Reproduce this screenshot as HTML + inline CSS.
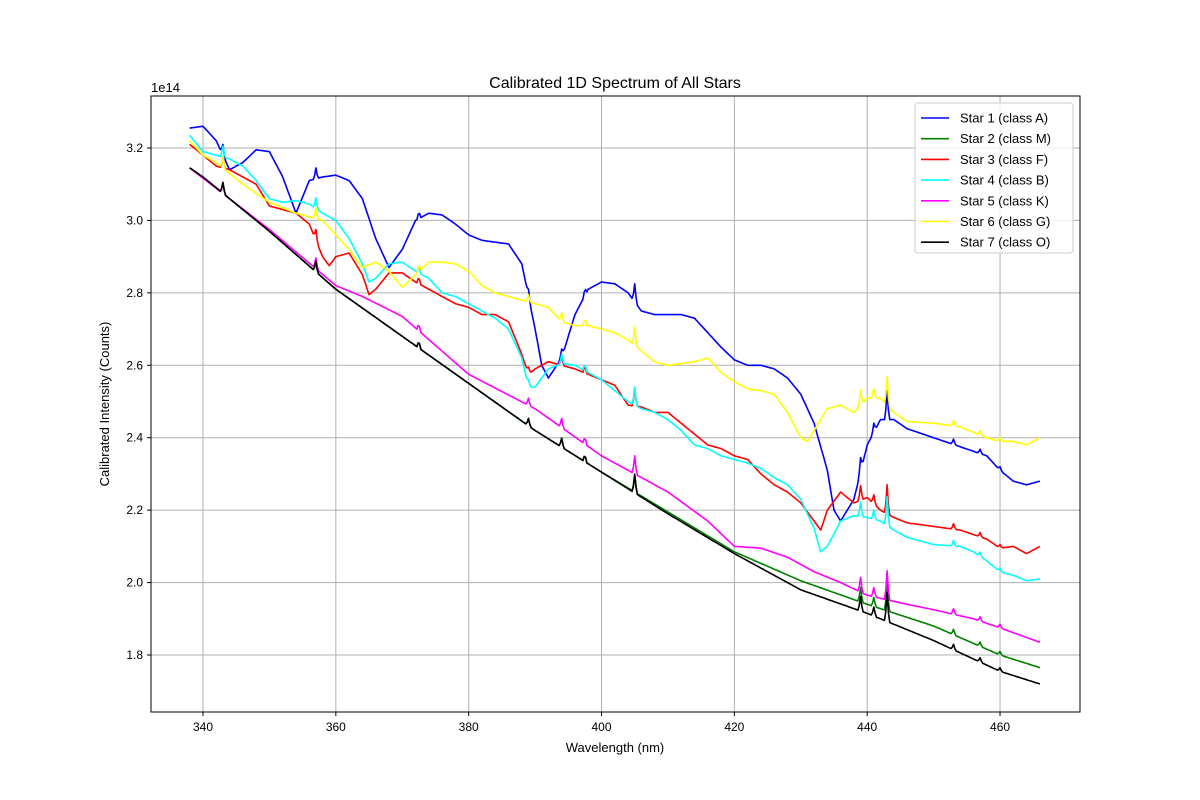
<!DOCTYPE html>
<html><head><meta charset="utf-8"><style>
body{margin:0;background:#fff;font-family:"Liberation Sans","DejaVu Sans",sans-serif;}
svg{display:block}
</style></head><body>
<svg id="chart" width="1200" height="800" xmlns="http://www.w3.org/2000/svg" font-family="Liberation Sans, DejaVu Sans, sans-serif">
<rect x="0" y="0" width="1200" height="800" fill="#fff"/>
<text x="615" y="88" font-size="16" text-anchor="middle">Calibrated 1D Spectrum of All Stars</text>
<text x="615" y="752" font-size="13" text-anchor="middle">Wavelength (nm)</text>
<text transform="translate(109,404) rotate(-90)" font-size="13" text-anchor="middle">Calibrated Intensity (Counts)</text>
<text x="151" y="92" font-size="13">1e14</text>
<g id="grid"></g>
<g id="series"></g>
<rect x="151" y="96" width="929" height="616" fill="none" stroke="#000" stroke-width="1"/>
<g id="ticks"></g>
<g id="legend"></g>
</svg>
<script>
const xTicks=[340,360,380,400,420,440,460];
const yTicks=[1.8,2.0,2.2,2.4,2.6,2.8,3.0,3.2];
const names=["Star 1 (class A)","Star 2 (class M)","Star 3 (class F)","Star 4 (class B)","Star 5 (class K)","Star 6 (class G)","Star 7 (class O)"];
const colors=["#0000ff","#008000","#ff0000","#00ffff","#ff00ff","#ffff00","#000000"];
const star1W=[338,340,342,344,346,348,350,352,354,356,358,360,362,364,366,368,370,372,374,376,378,380,382,384,386,388,390,391,392,394,396,398,400,402,404,406,408,410,412,414,416,418,420,422,424,426,428,430,432,434,435,436,438,440,442,444,446,450,454,458,460,462,464,466];
const star1V=[3.255,3.26,3.22,3.14,3.16,3.195,3.19,3.12,3.02,3.11,3.12,3.125,3.11,3.06,2.95,2.87,2.92,3.0,3.02,3.015,2.99,2.96,2.945,2.94,2.935,2.88,2.70,2.60,2.565,2.62,2.74,2.81,2.83,2.825,2.80,2.75,2.74,2.74,2.74,2.73,2.69,2.65,2.615,2.60,2.60,2.59,2.565,2.52,2.44,2.31,2.20,2.17,2.23,2.38,2.45,2.45,2.425,2.40,2.375,2.35,2.31,2.28,2.27,2.28];
const star2W=[338,340,350,360,370,380,390,400,410,420,430,440,450,460,466];
const star2V=[3.145,3.12,2.97,2.81,2.68,2.55,2.42,2.305,2.195,2.085,2.005,1.94,1.88,1.80,1.765];
const star3W=[338,340,342,344,346,348,350,352,354,356,358,359,360,362,364,365,366,368,370,372,374,376,378,380,382,384,386,388,389,390,392,394,396,398,400,402,404,406,408,410,412,414,416,418,420,422,424,426,428,430,432,433,434,436,438,440,442,444,446,450,454,458,460,462,464,466];
const star3V=[3.21,3.18,3.15,3.14,3.12,3.10,3.04,3.03,3.02,2.99,2.90,2.875,2.90,2.91,2.85,2.795,2.81,2.855,2.855,2.83,2.81,2.79,2.77,2.76,2.74,2.74,2.72,2.63,2.575,2.59,2.61,2.60,2.59,2.575,2.56,2.545,2.49,2.485,2.47,2.47,2.44,2.41,2.38,2.37,2.35,2.34,2.30,2.27,2.25,2.22,2.17,2.145,2.20,2.25,2.22,2.235,2.20,2.18,2.165,2.155,2.145,2.12,2.095,2.10,2.08,2.10];
const star4W=[338,340,342,344,346,348,350,352,354,356,358,360,362,364,365,366,368,370,372,374,376,378,380,382,384,386,388,389,390,392,394,396,398,400,402,404,406,408,410,412,414,416,418,420,422,424,426,428,430,432,433,434,436,438,440,442,444,446,450,454,456,458,460,462,464,466];
const star4V=[3.235,3.19,3.18,3.17,3.15,3.11,3.06,3.05,3.055,3.045,3.02,3.0,2.95,2.88,2.83,2.84,2.88,2.885,2.86,2.84,2.80,2.79,2.77,2.75,2.73,2.70,2.62,2.54,2.54,2.59,2.605,2.60,2.58,2.56,2.53,2.50,2.48,2.47,2.45,2.42,2.38,2.37,2.35,2.34,2.33,2.315,2.29,2.27,2.23,2.15,2.085,2.10,2.17,2.185,2.18,2.17,2.145,2.125,2.105,2.10,2.085,2.06,2.03,2.02,2.005,2.01];
const star5W=[338,350,360,364,370,380,390,400,410,416,420,424,428,432,436,440,446,450,456,460,466];
const star5V=[3.145,2.975,2.82,2.79,2.735,2.575,2.48,2.35,2.25,2.17,2.10,2.095,2.07,2.03,2.0,1.965,1.94,1.925,1.9,1.875,1.835];
const star6W=[338,340,342,344,346,350,354,358,360,362,364,366,368,370,372,374,376,378,380,382,384,386,388,390,392,394,396,398,400,402,404,406,408,410,412,414,416,418,420,422,424,426,428,430,431,432,434,436,438,440,442,444,446,450,454,458,460,462,464,466];
const star6V=[3.22,3.18,3.16,3.13,3.10,3.05,3.02,3.0,2.96,2.92,2.87,2.885,2.86,2.815,2.85,2.885,2.885,2.88,2.86,2.82,2.80,2.79,2.78,2.77,2.76,2.72,2.71,2.71,2.70,2.69,2.67,2.64,2.61,2.60,2.605,2.61,2.62,2.58,2.555,2.535,2.53,2.52,2.47,2.40,2.39,2.42,2.48,2.49,2.47,2.51,2.51,2.47,2.445,2.44,2.43,2.40,2.39,2.39,2.38,2.40];
const star7W=[338,340,350,360,370,380,390,400,410,420,430,440,450,460,466];
const star7V=[3.145,3.12,2.97,2.81,2.68,2.55,2.42,2.305,2.19,2.08,1.98,1.915,1.84,1.755,1.72];
const lineW=[343,357,372.5,389,394,397.5,405,439,441,443,453,457,460];
const lineA=[0.03,0.03,0.02,0.02,0.025,0.02,0.05,0.04,0.025,0.08,0.015,0.012,0.01];

const X0=151,X1=1080,Y0=96,Y1=712,xmin=332.17,xmax=472.04,ymin=1.6426,ymax=3.3436;
const xs=v=>X0+(v-xmin)/(xmax-xmin)*(X1-X0);
const ys=v=>Y1-(v-ymin)/(ymax-ymin)*(Y1-Y0);
const NS="http://www.w3.org/2000/svg";
const mk=(t,a,p)=>{const e=document.createElementNS(NS,t);for(const k in a)e.setAttribute(k,a[k]);p.appendChild(e);return e;};
const grid=document.getElementById('grid'),ticks=document.getElementById('ticks');
xTicks.forEach(t=>{const x=xs(t);
 const g=mk('line',{x1:x,x2:x,y1:Y0,y2:Y1,stroke:'#b0b0b0','stroke-width':1},grid);
 
 
 mk('line',{x1:x,x2:x,y1:Y1,y2:Y1+4,stroke:'#000'},ticks);
 const tx=mk('text',{x:x,y:Y1+19,'font-size':12,'text-anchor':'middle'},ticks);tx.textContent=t;
 
 
});
yTicks.forEach(t=>{const y=ys(t);
 const g=mk('line',{x1:X0,x2:X1,y1:y,y2:y,stroke:'#b0b0b0','stroke-width':1},grid);
 
 
 mk('line',{x1:X0-4,x2:X0,y1:y,y2:y,stroke:'#000'},ticks);
 const tx=mk('text',{x:X0-8,y:y+4,'font-size':12,'text-anchor':'end'},ticks);tx.textContent=t.toFixed(1);
 
 
});
const allW=[star1W,star2W,star3W,star4W,star5W,star6W,star7W];
const allV=[star1V,star2V,star3V,star4V,star5V,star6V,star7V];
function interp(W,V,w){if(w<=W[0])return V[0];for(let i=1;i<W.length;i++){if(w<=W[i]){const f=(w-W[i-1])/(W[i]-W[i-1]);return V[i-1]+f*(V[i]-V[i-1]);}}return V[V.length-1];}
const sg=document.getElementById('series');
for(let s=0;s<7;s++){
 let pts=[];
 for(let w=338;w<=466.001;w+=0.2){
  let v=interp(allW[s],allV[s],w);
  lineW.forEach((lw,i)=>{const d=Math.abs(w-lw);if(d<0.3)v+=lineA[i]*(1-d/0.3);});
  pts.push(xs(w).toFixed(1)+','+ys(v).toFixed(1));
 }
 const p=mk('polyline',{points:pts.join(' '),fill:'none',stroke:colors[s],'stroke-width':1.6,'stroke-linejoin':'round'},sg);
 
 
}
const lg=document.getElementById('legend');
const box=mk('rect',{x:915,y:103,width:158,height:150,rx:3,fill:'#fff','fill-opacity':0.8,stroke:'#ccc'},lg);


names.forEach((n,i)=>{const y=118+i*20.7;
 const l=mk('line',{x1:921,x2:949,y1:y,y2:y,stroke:colors[i],'stroke-width':1.6},lg);
 
 
 const t=mk('text',{x:960,y:y+4.5,'font-size':13},lg);t.textContent=n;
 
 
});
</script>
</body></html>
